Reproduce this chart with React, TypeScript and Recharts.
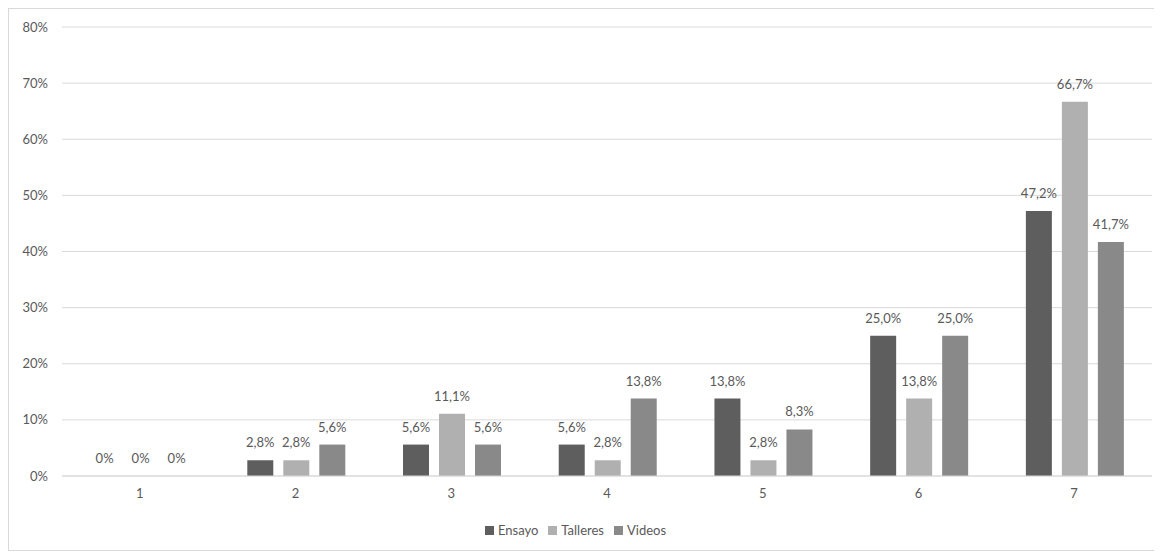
import { BarChart, Bar, XAxis, YAxis, CartesianGrid, Legend, LabelList } from 'recharts';

const categories = ['1', '2', '3', '4', '5', '6', '7'];
const ensayo = [0, 2.8, 5.6, 5.6, 13.8, 25.0, 47.2];
const talleres = [0, 2.8, 11.1, 2.8, 2.8, 13.8, 66.7];
const videos = [0, 5.6, 5.6, 13.8, 8.3, 25.0, 41.7];
const yTicks = [0, 10, 20, 30, 40, 50, 60, 70, 80];

const data = categories.map((name, i) => ({
  name,
  Ensayo: ensayo[i],
  Talleres: talleres[i],
  Videos: videos[i],
}));

const FONT = 'Lato, "Noto Sans", sans-serif';
const TEXT = '#595959';

const fmtLabel = (v: any) => (Number(v) === 0 ? '0%' : `${Number(v).toFixed(1).replace('.', ',')}%`);

export default function App() {
  return (
    <div style={{ width: 1152, height: 541, border: '1px solid #d9d9d9', fontFamily: FONT }}>
      <BarChart
        width={1152}
        height={541}
        data={data}
        margin={{ top: 18, right: 9, bottom: 12, left: 0 }}
        barCategoryGap="19%"
        barGap={10}
      >
        <CartesianGrid vertical={false} stroke="#d9d9d9" />
        <XAxis
          dataKey="name"
          axisLine={{ stroke: '#d9d9d9' }}
          tickLine={false}
          stroke="none"
          tick={{ fill: TEXT, fontSize: 13, fontFamily: FONT }}
          tickMargin={7}
          height={37}
        />
        <YAxis
          domain={[0, 80]}
          ticks={yTicks}
          tickFormatter={(v) => `${v}%`}
          axisLine={false}
          tickLine={false}
          tickSize={0}
          tickMargin={14}
          width={53}
          stroke="none"
          tick={{ fill: TEXT, fontSize: 13, fontFamily: FONT }}
        />
        <Legend
          verticalAlign="bottom"
          iconType="square"
          iconSize={9}
          formatter={(value) => <span style={{ color: TEXT, fontSize: 13, fontFamily: FONT }}>{value}</span>}
          wrapperStyle={{ paddingTop: 6 }}
        />
        <Bar dataKey="Ensayo" fill="#5e5e5e" minPointSize={0.01} isAnimationActive={false}>
          <LabelList dataKey="Ensayo" position="top" formatter={fmtLabel} fill={TEXT} fontSize={13} fontFamily={FONT} offset={13} />
        </Bar>
        <Bar dataKey="Talleres" fill="#b0b0b0" minPointSize={0.01} isAnimationActive={false}>
          <LabelList dataKey="Talleres" position="top" formatter={fmtLabel} fill={TEXT} fontSize={13} fontFamily={FONT} offset={13} />
        </Bar>
        <Bar dataKey="Videos" fill="#898989" minPointSize={0.01} isAnimationActive={false}>
          <LabelList dataKey="Videos" position="top" formatter={fmtLabel} fill={TEXT} fontSize={13} fontFamily={FONT} offset={13} />
        </Bar>
      </BarChart>
    </div>
  );
}
